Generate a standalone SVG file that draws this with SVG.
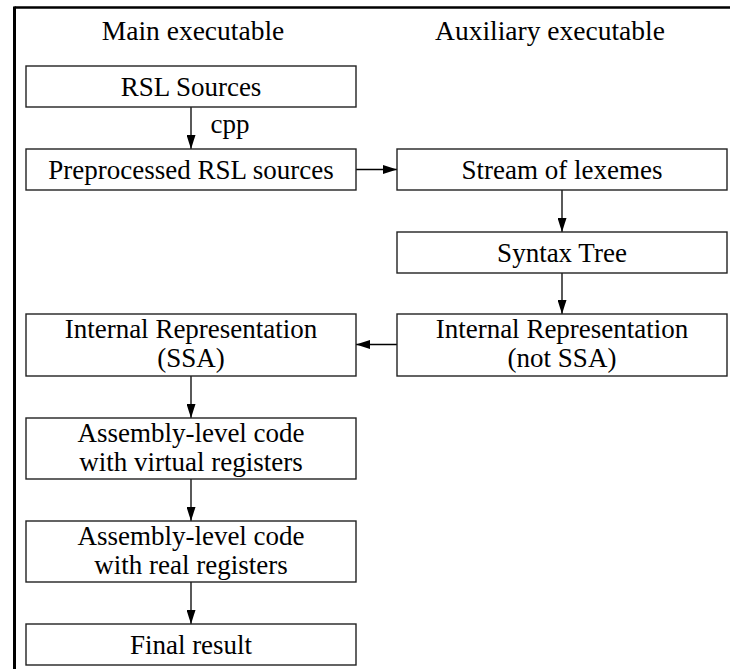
<svg xmlns="http://www.w3.org/2000/svg" width="730" height="669" viewBox="0 0 730 669">
<defs>
<marker id="ah" viewBox="0 0 14 9" refX="14" refY="4.5" markerWidth="14" markerHeight="9" markerUnits="userSpaceOnUse" orient="auto">
<path d="M0,0 L14,4.5 L0,9 Z" fill="#000"/>
</marker>
<style>
.box{fill:#fff;stroke:#222;stroke-width:1.4}
.t{font-family:'Liberation Serif','Times New Roman','DejaVu Serif',serif;font-size:27px;fill:#000;text-anchor:middle}
.h{font-size:27.5px}
.e{stroke:#000;stroke-width:1.3;fill:none;marker-end:url(#ah)}
</style>
</defs>
<rect width="730" height="669" fill="#fff"/>
<g id="frame">
<line x1="14.5" y1="7.5" x2="730" y2="7.5" stroke="#000" stroke-width="2.5"/>
<line x1="14.5" y1="6.5" x2="14.5" y2="669" stroke="#000" stroke-width="3"/>
</g>
<g id="headers">
<text class="t h" x="193" y="40">Main executable</text>
<text class="t h" x="550" y="40">Auxiliary executable</text>
</g>
<g id="connectors">
<line class="e" x1="191" y1="107" x2="191" y2="149"/>
<text class="t" x="230" y="133">cpp</text>
<line class="e" x1="356" y1="169.5" x2="397" y2="169.5"/>
<line class="e" x1="562" y1="190" x2="562" y2="232"/>
<line class="e" x1="562" y1="273" x2="562" y2="314"/>
<line class="e" x1="397" y1="344.5" x2="356" y2="344.5"/>
<line class="e" x1="191" y1="376" x2="191" y2="418"/>
<line class="e" x1="191" y1="479" x2="191" y2="521"/>
<line class="e" x1="191" y1="582" x2="191" y2="624"/>
</g>
<g id="rsl"><rect class="box" x="26" y="66" width="330" height="41"/><text class="t" x="191" y="96">RSL Sources</text></g>
<g id="pre"><rect class="box" x="26" y="149" width="330" height="41"/><text class="t" x="191" y="179">Preprocessed RSL sources</text></g>
<g id="lex"><rect class="box" x="397" y="149" width="330" height="41"/><text class="t" x="562" y="179">Stream of lexemes</text></g>
<g id="tree"><rect class="box" x="397" y="232" width="330" height="41"/><text class="t" x="562" y="262">Syntax Tree</text></g>
<g id="irn"><rect class="box" x="397" y="314" width="330" height="62"/><text class="t" x="562" y="338">Internal Representation</text><text class="t" x="562" y="367">(not SSA)</text></g>
<g id="irs"><rect class="box" x="26" y="314" width="330" height="62"/><text class="t" x="191" y="338">Internal Representation</text><text class="t" x="191" y="367">(SSA)</text></g>
<g id="asmv"><rect class="box" x="26" y="418" width="330" height="61"/><text class="t" x="191" y="442">Assembly-level code</text><text class="t" x="191" y="471">with virtual registers</text></g>
<g id="asmr"><rect class="box" x="26" y="521" width="330" height="61"/><text class="t" x="191" y="545">Assembly-level code</text><text class="t" x="191" y="574">with real registers</text></g>
<g id="final"><rect class="box" x="26" y="624" width="330" height="41"/><text class="t" x="191" y="654">Final result</text></g>
</svg>
